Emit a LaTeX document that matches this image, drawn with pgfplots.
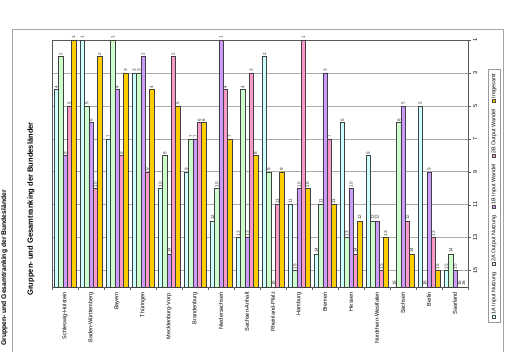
\documentclass[border=0pt]{standalone}
\usepackage{pgfplots}
\pgfplotsset{compat=1.18}
\usepackage{pgfplotstable}
\usepackage{fontspec}
\setmainfont{Liberation Sans}
\definecolor{cA}{HTML}{CCFFFF}
\definecolor{cB}{HTML}{CCFFCC}
\definecolor{cC}{HTML}{CC99FF}
\definecolor{cD}{HTML}{FF99CC}
\definecolor{cE}{HTML}{FFCC00}
\newcommand{\swatch}[1]{{\setlength{\fboxsep}{0pt}\setlength{\fboxrule}{0.4pt}\fcolorbox{black!70}{#1}{\rule{0pt}{2.6bp}\rule{2.6bp}{0pt}}}\,}
\pgfplotstableread{
x a b c d e
0 4 2 8 5 1
1 1 5 6 10 2
2 7 1 4 8 3
3 3 3 2 9 4
4 10 8 14 2 5
5 9 7 7 6 6
6 12 10 1 4 7
7 13 4 13 3 8
8 2 9 16 11 9
9 11 15 10 1 10
10 14 11 3 7 11
11 6 13 10 14 12
12 8 12 12 15 13
13 16 6 5 12 14
14 5 16 9 13 15
15 15 14 15 16 16
}\ranks
\begin{document}
\begin{tikzpicture}
\path[use as bounding box] (0,0) rectangle (506bp,352bp);
\draw[gray!70, line width=0.5pt] (12bp,-2bp) -- (12bp,323bp) -- (503bp,323bp) -- (503bp,-2bp);
\node[rotate=90, font=\bfseries\fontsize{6.8}{8}\selectfont] at (4.5bp,84bp) {Gruppen- und Gesamtranking der Bundesländer};
\node[rotate=90, font=\bfseries\fontsize{7.6}{9}\selectfont] at (31bp,143bp) {Gruppen- und Gesamtranking der Bundesländer};
\begin{axis}[
  at={(52bp,65bp)}, anchor=south west,
  scale only axis, width=416bp, height=247bp,
  xmin=-0.5, xmax=15.5, ymin=0, ymax=15,
  ybar=0pt, bar width=4.3bp,
  /pgf/number format/assume math mode=true,
  xtick={0,...,15},
  xticklabels={Schleswig-Holstein,Baden-Württemberg,Bayern,Thüringen,Mecklenburg-Vorp.,Brandenburg,Niedersachsen,Sachsen-Anhalt,Rheinland-Pfalz,Hamburg,Bremen,Hessen,Nordrhein-Westfalen,Sachsen,Berlin,Saarland},
  major x tick style={draw=none},
  minor xtick={-0.5,0.5,...,15.5},
  minor tick length=3bp, major tick length=3bp,
  tick align=outside,
  xtick pos=left, ytick pos=right, yticklabel pos=right,
  ytick={1,3,...,15},
  yticklabels={15,13,11,9,7,5,3,1},
  ymajorgrids, grid style={gray!65, line width=0.5pt},
  axis line style={black!65, line width=0.5pt},
  tick style={black!65},
  xticklabel style={rotate=90, anchor=east, font=\fontsize{5.6}{6}\selectfont, inner sep=2pt},
  yticklabel style={rotate=90, anchor=north, font=\fontsize{5.6}{6}\selectfont, inner sep=2pt},
  nodes near coords,
  every node near coord/.append style={rotate=90, anchor=west, font=\fontsize{4.6}{5}\selectfont, inner sep=1pt, text=black!80},
  point meta=explicit,
  every axis plot/.append style={draw=black!75, line width=0.4pt},
  clip=false,
]
\addplot[fill=cA] table[x=x, y expr=16-\thisrow{a}, meta=a] {\ranks};
\addplot[fill=cB] table[x=x, y expr=16-\thisrow{b}, meta=b] {\ranks};
\addplot[fill=cC] table[x=x, y expr=16-\thisrow{c}, meta=c] {\ranks};
\addplot[fill=cD] table[x=x, y expr=16-\thisrow{d}, meta=d] {\ranks};
\addplot[fill=cE] table[x=x, y expr=16-\thisrow{e}, meta=e] {\ranks};
\node[rotate=90, draw=gray!80, fill=white, font=\fontsize{5.4}{6}\selectfont, inner xsep=4bp, inner ysep=2pt, minimum height=12bp, minimum width=248bp] at (rel axis cs:1.0625,0.368)
 {\swatch{cA}1A Input Nutzung\hspace{7bp}\swatch{cB}2A Output Nutzung\hspace{7bp}\swatch{cC}1B Input Wandel\hspace{7bp}\swatch{cD}2B Output Wandel\hspace{7bp}\swatch{cE}Insgesamt};
\end{axis}
\end{tikzpicture}
\end{document}
